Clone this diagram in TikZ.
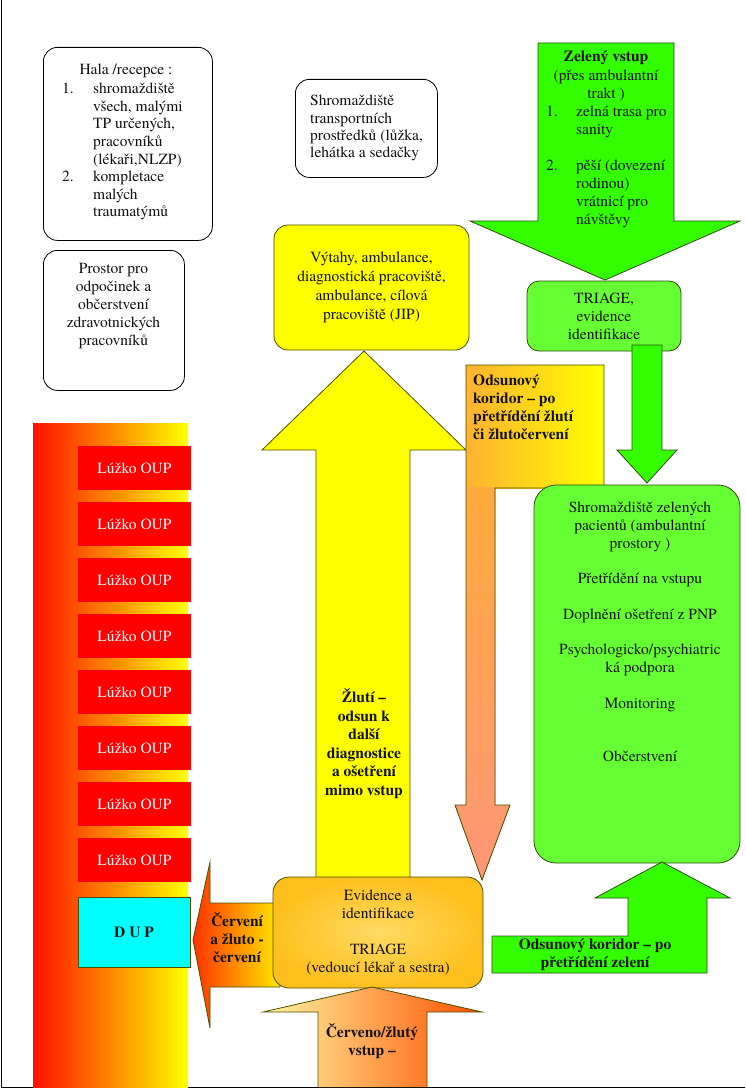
\documentclass[tikz,border=0pt]{standalone}
\usepackage{fontspec}
\setmainfont{texgyretermes-regular.otf}[BoldFont=texgyretermes-bold.otf]
\newfontfamily\tnr{texgyretermes-regular.otf}[BoldFont=texgyretermes-bold.otf]
\definecolor{gA}{HTML}{33FF00}
\definecolor{gB}{HTML}{66FF33}
\definecolor{gLine}{HTML}{2E4A10}
\definecolor{yLine}{HTML}{4D4D00}
\definecolor{txt}{HTML}{111111}
\definecolor{cyanB}{RGB}{0,255,255}
\definecolor{redB}{RGB}{255,0,0}
\definecolor{yelB}{RGB}{255,255,0}
\begin{document}
\begin{tikzpicture}[x=1pt,y=-1pt,
  t/.style={font=\tnr\fontsize{15.5}{18}\selectfont, inner sep=0pt, align=center, text=txt},
  tb/.style={font=\tnr\fontsize{15.5}{18}\selectfont\bfseries, inner sep=0pt, align=center, text=txt},
  wbox/.style={draw=black, fill=white, rounded corners=14pt, line width=0.8pt, inner sep=0pt},
  outl/.style={line width=0.8pt, line join=miter},
  bed/.style={fill=redB, inner sep=0pt, minimum width=113pt, minimum height=44pt,
    font=\tnr\fontsize{15.5}{18}\selectfont, text=white}
]
\useasboundingbox (0,0) rectangle (745,1089);
% frame
\draw[line width=1pt] (1.5,0) -- (1.5,1087) -- (745,1087);

% left column of beds
\fill[left color={rgb,255:red,255;green,16;blue,0}, middle color={rgb,255:red,255;green,150;blue,0}, right color=yelB] (33,423) rectangle (188,1087);
\foreach \k in {0,...,7}{
  \node[bed] (bed\k) at (134.5,{468+56*\k}) {Lúžko OUP};
}
\node[draw=yLine, fill=cyanB, line width=0.6pt, inner sep=0pt, minimum width=112pt, minimum height=70pt,
  font=\tnr\fontsize{15.5}{18}\selectfont\bfseries, text=txt] (dup) at (134,932) {D U P};

% left arrow (Cerveni)
\draw[outl, draw=yLine, left color={rgb,255:red,255;green,50;blue,0}, right color={rgb,255:red,255;green,235;blue,0}]
  (280,903) -- (210,903) -- (210,862) -- (193,940) -- (210,1028) -- (210,987) -- (280,987) -- cycle;
\node[tb] (cerv) at (237,938) {Červení\\a žluto -\\červení};

% big yellow up arrow
\draw[outl, draw=yLine, fill=yelB]
  (316,880) -- (316,450) -- (262,450) -- (364,351) -- (466,450) -- (410,450) -- (410,880) -- cycle;
\node[tb, anchor=north, font=\tnr\fontsize{15.5}{18.5}\selectfont\bfseries] (zluti) at (364,689) {Žlutí –\\odsun k\\další\\diagnostice\\a ošetření\\mimo vstup};

% yellow box
\node[draw=yLine, fill=yelB, rounded corners=14pt, line width=0.8pt, inner sep=0pt,
  minimum width=195pt, minimum height=125pt, t, font=\tnr\fontsize{15.5}{19}\selectfont] (vytahy) at (371.5,287.5)
  {Výtahy, ambulance,\\diagnostická pracoviště,\\ambulance, cílová\\pracoviště (JIP)};

% odsunovy koridor (yellow/orange)
\fill[left color={rgb,255:red,255;green,178;blue,48}, right color=yelB] (466,365) rectangle (604,488);
\fill[top color={rgb,255:red,255;green,170;blue,60}, bottom color={rgb,255:red,255;green,150;blue,120}]
  (466,487) -- (495,487) -- (495,805) -- (510,805) -- (482,880) -- (455,805) -- (466,805) -- cycle;
\draw[outl, draw=yLine]
  (466,365) -- (604,365) -- (604,488) -- (495,488) -- (495,805) -- (510,805) -- (482,880) -- (455,805) -- (466,805) -- cycle;
\node[tb, align=left, anchor=north west] (odsT) at (473,374.5) {Odsunový\\koridor – po\\přetřídění žlutí\\či žlutočervení};

% evidence box
\node[draw=yLine, inner color={rgb,255:red,255;green,218;blue,100}, outer color={rgb,255:red,255;green,192;blue,30},
  rounded corners=16pt, line width=0.8pt, inner sep=0pt, minimum width=210pt, minimum height=111pt, t] (evid) at (378,932.5)
  {Evidence a\\identifikace\\[18pt]TRIAGE\\(vedoucí lékař a sestra)};

% bottom up arrow
\draw[outl, draw=yLine, left color={rgb,255:red,255;green,245;blue,160}, right color={rgb,255:red,255;green,80;blue,0}]
  (318,1087) -- (318,1012) -- (263,1012) -- (372,987) -- (482,1012) -- (427,1012) -- (427,1087);
\node[tb] (vstup) at (372,1041) {Červeno/žlutý\\vstup –};

% green top arrow
\draw[outl, draw=gLine, fill=gA]
  (538,43) -- (674,43) -- (674,221) -- (740,221) -- (605,280) -- (470,221) -- (538,221) -- cycle;
\node[tb, anchor=north] (zelT) at (606,50) {Zelený vstup};
\node[t, anchor=north] (zelT2) at (606,70) {(přes ambulantní\\trakt )};
\node[t, align=left, anchor=north west] (zelL) at (546,106) {\makebox[30pt][l]{1.}zelná trasa pro\\\hspace*{30pt}sanity\\[18pt]\makebox[30pt][l]{2.}pěší (dovezení\\\hspace*{30pt}rodinou)\\\hspace*{30pt}vrátnicí pro\\\hspace*{30pt}návštěvy};

% triage box
\node[draw=gLine, fill=gB, rounded corners=12pt, line width=0.8pt, inner sep=0pt,
  minimum width=154pt, minimum height=70pt, t] (triage) at (604,316) {TRIAGE,\\evidence\\identifikace};

% green arrow triage -> shromazdiste
\draw[outl, draw=gLine, fill=gA]
  (632,345) -- (662,345) -- (662,450) -- (677,450) -- (647,483) -- (617,450) -- (632,450) -- cycle;

% big green box
\node[draw=gLine, fill=gB, rounded corners=22pt, line width=0.8pt, inner sep=0pt,
  minimum width=206pt, minimum height=378pt] (zelbox) at (637,674) {};
\node[t, anchor=north] (zelboxT) at (640,501.5)
  {Shromaždiště zelených\\pacientů (ambulantní\\prostory )\\[17pt]Přetřídění na vstupu\\[18pt]Doplnění ošetření z PNP\\[17pt]Psychologicko/psychiatric\\ká podpora\\[18pt]Monitoring\\[35pt]Občerstvení};

% bottom green bent arrow
\draw[outl, draw=gLine, fill=gA]
  (492,936) -- (628,936) -- (628,898) -- (595,898) -- (662,862) -- (730,898) -- (707,898) -- (707,973) -- (492,973) -- cycle;
\begin{scope}
  \clip (492,936) rectangle (707,972);
  \node[tb, anchor=north] (odsZ) at (595,938.5) {Odsunový koridor – po\\přetřídění zelení};
\end{scope}

% white boxes
\node[wbox, minimum width=169pt, minimum height=193pt, anchor=north west] (hala) at (43,47) {};
\node[t, anchor=north] (halaT) at (126,64) {Hala /recepce :};
\node[t, align=left, anchor=north west, font=\tnr\fontsize{15.5}{17.6}\selectfont] (halaL) at (62,83)
  {\makebox[31pt][l]{1.}shromaždiště\\\hspace*{31pt}všech, malými\\\hspace*{31pt}TP určených,\\\hspace*{31pt}pracovníků\\\hspace*{31pt}(lékaři,NLZP)\\\makebox[31pt][l]{2.}kompletace\\\hspace*{31pt}malých\\\hspace*{31pt}traumatýmů};

\node[wbox, minimum width=141pt, minimum height=140pt, anchor=north west] (prostor) at (43,250) {};
\node[t, anchor=north] (prostorT) at (113.5,263) {Prostor pro\\odpočinek a\\občerstvení\\zdravotnických\\pracovníků};

\node[wbox, minimum width=142pt, minimum height=98pt, anchor=north west] (transp) at (295,79) {};
\node[t, align=left, anchor=north west, font=\tnr\fontsize{15.5}{17.4}\selectfont] (transpT) at (310,95)
  {Shromaždiště\\transportních\\prostředků (lůžka,\\lehátka a sedačky};
\end{tikzpicture}
\end{document}
